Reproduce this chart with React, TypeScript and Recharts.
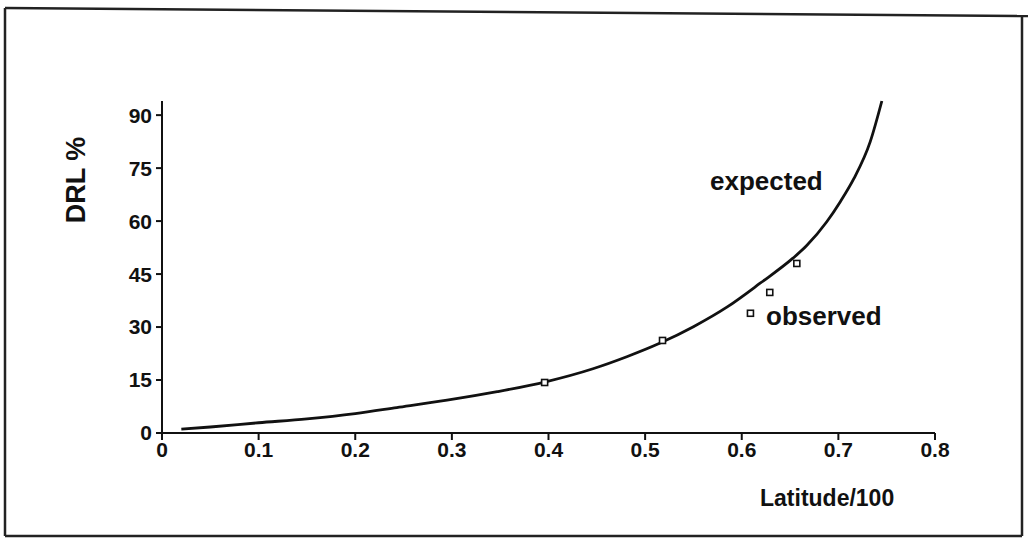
import { ComposedChart, Line, Scatter, XAxis, YAxis } from "recharts";

// expected curve
const expectedX = [0.02, 0.05, 0.1, 0.15, 0.2, 0.243, 0.295, 0.347, 0.397, 0.446, 0.481, 0.515, 0.55, 0.585, 0.619, 0.653, 0.667, 0.688, 0.702, 0.716, 0.733, 0.745];
const expectedY = [1.1, 1.7, 2.9, 4.0, 5.5, 7.2, 9.3, 11.7, 14.5, 18.2, 21.6, 25.4, 30.1, 35.7, 42.4, 49.5, 53.0, 59.8, 65.5, 72.0, 82.5, 94.0];

// observed points
const observedX = [0.396, 0.518, 0.609, 0.629, 0.657];
const observedY = [14.3, 26.2, 33.9, 39.8, 48.0];

const xTicks = [0, 0.1, 0.2, 0.3, 0.4, 0.5, 0.6, 0.7, 0.8];
const yTicks = [0, 15, 30, 45, 60, 75, 90];

const expected = expectedX.map((x, i) => ({ x, y: expectedY[i] }));
const observed = observedX.map((x, i) => ({ x, y: observedY[i] }));

const font = "'Liberation Sans', Arial, sans-serif";

const Square = (props: any) => {
  const { cx, cy } = props;
  return <rect x={cx - 3} y={cy - 3} width={6} height={6} fill="#fff" stroke="#111" strokeWidth={1.6} />;
};

export default function App() {
  const tick = { fontSize: 21, fill: "#111", fontWeight: 700, fontFamily: font };
  return (
    <div style={{ position: "absolute", left: 0, top: 0, width: 1028, height: 543, background: "#fff" }}>
      <ComposedChart
        width={1028}
        height={543}
        margin={{ top: 101, right: 93, bottom: 80, left: 102 }}
      >
        <XAxis
          type="number"
          dataKey="x"
          domain={[0, 0.8]}
          ticks={xTicks}
          height={30}
          tickSize={7}
          tickMargin={2}
          stroke="#111"
          strokeWidth={2}
          tick={tick}
          interval={0}
        />
        <YAxis
          type="number"
          dataKey="y"
          domain={[0, 94]}
          ticks={yTicks}
          width={60}
          tickSize={6}
          tickMargin={4}
          stroke="#111"
          strokeWidth={2}
          tick={tick}
          interval={0}
        />
        <Line
          data={expected}
          dataKey="y"
          type="monotone"
          stroke="#111"
          strokeWidth={2.8}
          dot={false}
          isAnimationActive={false}
        />
        <Scatter data={observed} dataKey="y" shape={<Square />} isAnimationActive={false} />
      </ComposedChart>
      <svg
        width={1028}
        height={543}
        style={{ position: "absolute", left: 0, top: 0, pointerEvents: "none" }}
      >
        <g stroke="#222" strokeWidth={2.5}>
          <line x1={5} y1={8} x2={1028} y2={16} />
          <line x1={5} y1={8} x2={5} y2={536} />
          <line x1={5} y1={536} x2={1022} y2={536} />
          <line x1={1022} y1={15} x2={1022} y2={536} />
        </g>
        <g fill="#111" fontFamily={font} fontWeight={700}>
          <text x={710} y={190} fontSize={26}>expected</text>
          <text x={766} y={325} fontSize={26}>observed</text>
          <text x={760} y={506} fontSize={23}>Latitude/100</text>
          <text x={85} y={180} fontSize={27} textAnchor="middle" transform="rotate(-90, 85, 180)">
            DRL %
          </text>
        </g>
      </svg>
    </div>
  );
}
